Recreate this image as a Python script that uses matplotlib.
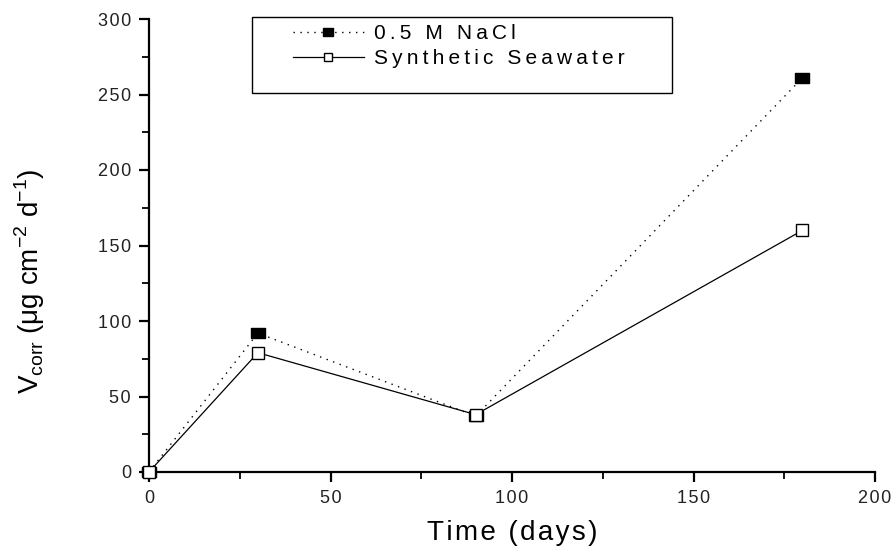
import numpy as np
import matplotlib
matplotlib.rcParams['font.family'] = ['Liberation Sans', 'DejaVu Sans']
import matplotlib.pyplot as plt
from matplotlib.ticker import MultipleLocator, FuncFormatter
from matplotlib.patches import Rectangle

days = [0, 30, 90, 180]
nacl = [0, 92, 37, 261]
seawater = [0, 79, 38, 160]
labels = ['0.5 M NaCl', 'Synthetic Seawater']

HAIR = '\u200a'
THIN = '\u2009'


def spaced(s, sp):
    # old scanned figure: letters sit a bit apart
    return sp.join(s)


W, H = 891, 547
fig = plt.figure(figsize=(W / 100, H / 100), dpi=100)
ax = fig.add_axes([149 / W, 1 - 472 / H, 726 / W, 453 / H])

rect = [(-1, -0.75), (1, -0.75), (1, 0.75), (-1, 0.75), (-1, -0.75)]
ax.plot(days, nacl, color='black', ls=(0, (1, 4)), lw=1.0, marker=rect, ms=10,
        mfc='black', mec='black', label=spaced(labels[0], THIN),
        clip_on=False, zorder=3)
ax.plot(days, seawater, color='black', ls='-', lw=0.9, marker='s', ms=8,
        mfc='white', mec='black', mew=1.0, label=spaced(labels[1], THIN),
        clip_on=False, zorder=4)

ax.set_xlim(0, 200)
ax.set_ylim(0, 300)
ax.xaxis.set_major_locator(MultipleLocator(50))
ax.xaxis.set_minor_locator(MultipleLocator(25))
ax.yaxis.set_major_locator(MultipleLocator(50))
ax.yaxis.set_minor_locator(MultipleLocator(25))
fmt = FuncFormatter(lambda v, p: spaced(f'{v:.0f}', HAIR))
ax.xaxis.set_major_formatter(fmt)
ax.yaxis.set_major_formatter(fmt)
ax.spines[['top', 'right']].set_visible(False)
for s in ['left', 'bottom']:
    ax.spines[s].set_linewidth(1.6)
ax.tick_params(which='major', direction='out', length=7, width=1.6, labelsize=13,
               colors='black', labelcolor='#222222', pad=6)
ax.tick_params(which='minor', direction='out', length=5, width=1.3)

ax.set_xlabel(spaced('Time (days)', HAIR), fontsize=20)
ax.xaxis.set_label_coords(0.5, -0.105)
ax.set_ylabel(r'V$_{\mathregular{corr}}$ ($\mathregular{\mu}$g cm$^{\mathregular{-2}}$ d$^{\mathregular{-1}}$)',
              fontsize=20)
ax.yaxis.set_label_coords(-0.14, 0.42)

# legend box drawn separately: handles sit well inside the frame
fig.patches.append(Rectangle((252 / W, 1 - 93 / H), 420 / W, 76 / H,
                             transform=fig.transFigure, fill=False,
                             ec='black', lw=1.0))
leg = ax.legend(loc='upper left', bbox_to_anchor=(293 / W, 1 - 24 / H),
                bbox_transform=fig.transFigure, fontsize=15, frameon=False,
                handlelength=3.4, borderpad=0, borderaxespad=0,
                labelspacing=0.3, handletextpad=0.5, markerscale=0.75)

fig.savefig('out.png', dpi=100, facecolor='white')
